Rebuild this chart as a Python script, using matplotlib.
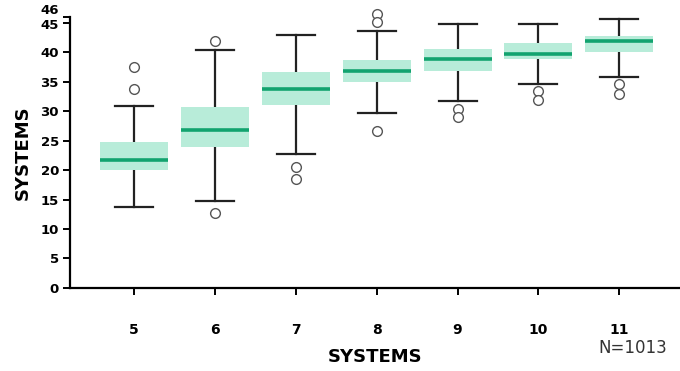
import numpy as np
import matplotlib.pyplot as plt
import matplotlib.transforms as mtransforms

# box statistics
groups = [5, 6, 7, 8, 9, 10, 11]
whislo = [13.8, 14.7, 22.8, 29.7, 31.8, 34.7, 35.9]
q1 = [20.0, 24.0, 31.0, 35.0, 36.8, 38.9, 40.0]
med = [21.7, 26.8, 33.8, 36.8, 38.9, 39.7, 41.9]
q3 = [24.8, 30.8, 36.7, 38.7, 40.5, 41.6, 42.7]
whishi = [30.9, 40.4, 43.0, 43.7, 44.8, 44.8, 45.7]
fliers = [[37.6, 33.7], [41.9, 12.8], [20.6, 18.5], [46.6, 45.1, 26.7],
          [30.4, 29.0], [33.5, 31.9], [34.7, 33.0]]
yticks = [0, 5, 10, 15, 20, 25, 30, 35, 40, 45, 46]

stats = []
for i in range(len(groups)):
    stats.append({'whislo': whislo[i], 'q1': q1[i], 'med': med[i], 'q3': q3[i],
                  'whishi': whishi[i], 'fliers': fliers[i]})

fig = plt.figure(figsize=(6.8, 3.71), dpi=100)
ax = fig.add_axes([0.103, 0.224, 0.897, 0.730])

bp = ax.bxp(stats, positions=groups, widths=0.84, patch_artist=True,
            boxprops=dict(facecolor='#b8ecd9', edgecolor='none'),
            medianprops=dict(color='#12a36f', linewidth=2.6),
            whiskerprops=dict(color='#222222', linewidth=1.6),
            capprops=dict(color='#222222', linewidth=1.6),
            capwidths=0.47,
            flierprops=dict(marker='o', markerfacecolor='white', markeredgecolor='#555555',
                            markersize=7, markeredgewidth=1.0))
for b in bp['boxes']:
    b.set_zorder(3)
for m in bp['medians']:
    m.set_zorder(4)
for f in bp['fliers']:
    f.set_clip_on(False)

ax.set_xlim(4.21, 11.75)
ax.set_ylim(0, 46)
ax.set_yticks(yticks)
ax.set_xticks(groups)

for s in ['top', 'right']:
    ax.spines[s].set_visible(False)
ax.spines['left'].set_linewidth(1.6)
ax.spines['bottom'].set_linewidth(1.6)

ax.tick_params(axis='y', length=5, width=1.4, labelsize=9.5, pad=3)
ax.tick_params(axis='x', length=5, width=1.4, labelsize=10, pad=20)
for lab in ax.get_xticklabels() + ax.get_yticklabels():
    lab.set_fontweight('bold')

# 46 sits right above 45, push its label up a little so both read
lab46 = ax.get_yticklabels()[-1]
lab46.set_transform(lab46.get_transform() +
                    mtransforms.ScaledTranslation(0, 6 / 72, fig.dpi_scale_trans))
lab45 = ax.get_yticklabels()[-2]
lab45.set_transform(lab45.get_transform() +
                    mtransforms.ScaledTranslation(0, -1 / 72, fig.dpi_scale_trans))

ax.set_ylabel('SYSTEMS', fontsize=13, fontweight='bold', labelpad=6)
ax.set_xlabel('SYSTEMS', fontsize=13, fontweight='bold', labelpad=8)
fig.text(0.93, 0.062, 'N=1013', fontsize=12, ha='center', va='center', color='#333333')

plt.savefig('out.png', dpi=100)
